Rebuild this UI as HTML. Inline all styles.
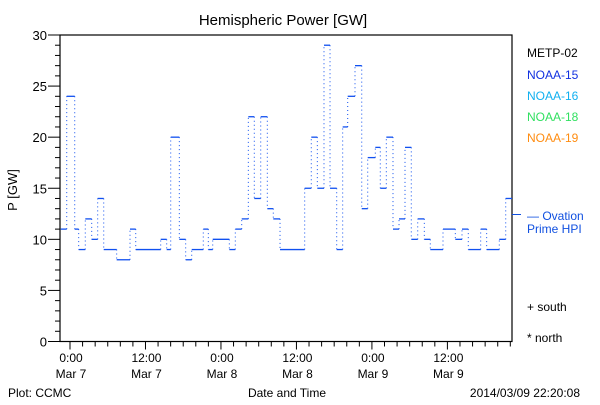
<!DOCTYPE html>
<html><head><meta charset="utf-8"><style>
body{margin:0;background:#fff;width:600px;height:400px;overflow:hidden}
svg{font-family:"Liberation Sans",sans-serif}
</style></head><body>
<svg id="chart" width="600" height="400" viewBox="0 0 600 400">
<rect width="600" height="400" fill="#fff"/>
<text x="283" y="25" font-size="15" text-anchor="middle">Hemispheric Power [GW]</text>
<text transform="translate(17,190) rotate(-90)" font-size="13" text-anchor="middle">P [GW]</text>
<g id="axes"></g>
<g id="series"></g>
<g font-size="12">
<text x="527" y="57" fill="#000">METP-02</text>
<text x="527" y="79" fill="#1030e0">NOAA-15</text>
<text x="527" y="100" fill="#10b0f0">NOAA-16</text>
<text x="527" y="121" fill="#30e060">NOAA-18</text>
<text x="527" y="142" fill="#ff8c10">NOAA-19</text>
<text x="527" y="220" fill="#1050e0">— Ovation</text>
<text x="527" y="233" fill="#1050e0">Prime HPI</text>
<text x="527" y="311" fill="#000">+ south</text>
<text x="527" y="342" fill="#000">* north</text>
</g>
<line x1="512" y1="214.5" x2="521" y2="214.5" stroke="#1050e0" stroke-width="1"/>
<text x="8" y="397" font-size="12">Plot: CCMC</text>
<text x="287" y="397" font-size="12" text-anchor="middle">Date and Time</text>
<text x="580" y="397" font-size="12" text-anchor="end">2014/03/09 22:20:08</text>
</svg>
<script>
const starts=[-1.48,-0.52,0.75,1.38,2.43,3.45,4.40,5.36,7.42,9.54,10.45,14.42,15.37,16.01,17.38,18.39,19.35,21.19,21.99,22.69,25.33,26.28,27.30,28.35,29.30,30.32,31.37,32.32,33.39,37.31,38.36,39.32,40.38,41.34,42.40,43.35,44.15,45.31,46.38,47.33,48.54,49.33,50.29,51.35,52.31,53.26,54.26,55.28,56.33,57.28,59.30,61.26,62.32,63.32,65.29,66.24,68.25,69.27];
const values=[11,24,11,9,12,10,14,9,8,11,9,10,9,20,10,8,9,11,9,10,9,11,12,22,14,22,13,12,9,15,20,15,29,15,9,21,24,27,13,18,19,15,20,11,12,19,10,12,10,9,11,10,11,9,11,9,10,14];
const endTime=70.27;
const yTicks=[0,5,10,15,20,25,30];
const xTickHours=[0,12,24,36,48,60];
const xTickTimes=["0:00","12:00","0:00","12:00","0:00","12:00"];
const xTickDates=["Mar 7","Mar 7","Mar 8","Mar 8","Mar 9","Mar 9"];

const L=60,R=512,T=35,B=341.5,H0=-1.59,H1=70.27;
const xs=h=>L+(h-H0)/(H1-H0)*(R-L);
const ys=v=>B-(v/30)*(B-T);
const NS="http://www.w3.org/2000/svg";
function mk(tag,attrs,parent){const e=document.createElementNS(NS,tag);for(const k in attrs)e.setAttribute(k,attrs[k]);parent.appendChild(e);return e;}
const ax=document.getElementById('axes');
const frame=mk('rect',{x:L,y:T,width:R-L,height:B-T,fill:'none',stroke:'#000','stroke-width':1.2},ax);


for(let v=0;v<=30;v++){
  const major=v%5===0;
  const t=mk('line',{x1:L-(major?12:5),x2:L,y1:ys(v),y2:ys(v),stroke:'#000'},ax);
  
  
}
yTicks.forEach(v=>{
  const t=mk('text',{x:47,y:ys(v)+5,'font-size':13,'text-anchor':'end'},ax);
  t.textContent=v;
  
  
});
for(let h=-0;h<=70;h+=2){
  const major=h%12===0;
  const t=mk('line',{x1:xs(h),x2:xs(h),y1:B,y2:B+(major?8:5),stroke:'#000'},ax);
  
  
}
xTickHours.forEach((h,i)=>{
  const a=mk('text',{x:xs(h)+1,y:362,'font-size':12,'text-anchor':'middle'},ax);
  a.textContent=xTickTimes[i];
  
  
  const b=mk('text',{x:xs(h)+1,y:378,'font-size':12,'text-anchor':'middle'},ax);
  b.textContent=xTickDates[i];
  
  
});
const sg=document.getElementById('series');
for(let i=0;i<values.length;i++){
  const x1=xs(starts[i]),x2=xs(i+1<starts.length?starts[i+1]:endTime),y=ys(values[i]);
  const s=mk('line',{x1:x1,x2:x2,y1:y,y2:y,stroke:'#1050f0','stroke-width':1.3},sg);
  
  
  if(i+1<values.length){
    const c=mk('line',{x1:x2,x2:x2,y1:y,y2:ys(values[i+1]),stroke:'#1050f0','stroke-width':1,'stroke-dasharray':'1 3'},sg);
    
    
  }
}
</script>
</body></html>
